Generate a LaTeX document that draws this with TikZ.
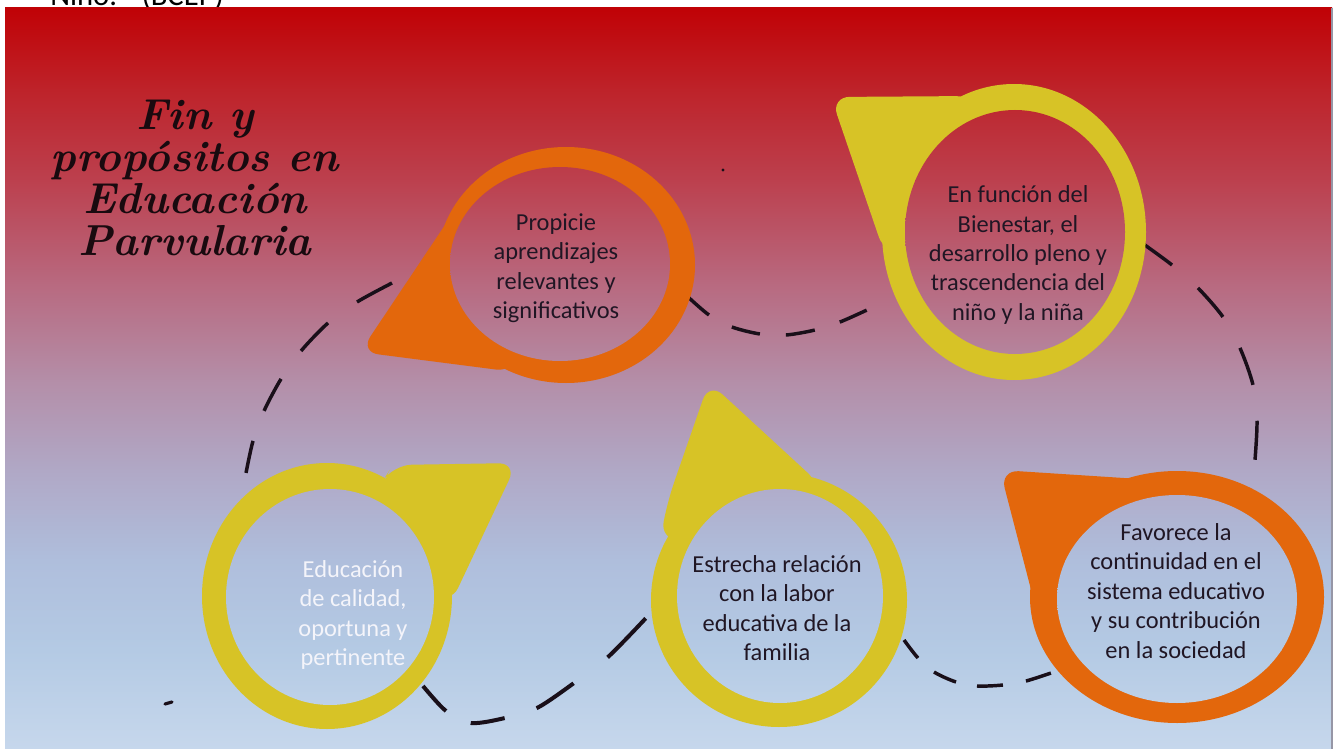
\documentclass[tikz,border=0pt]{standalone}
\usepackage{fontspec}
\newfontfamily\bodyfont{Carlito}
\definecolor{bgA}{RGB}{192,2,6}
\definecolor{bgB}{RGB}{190,35,42}
\definecolor{bgC}{RGB}{188,64,78}
\definecolor{bgD}{RGB}{184,104,126}
\definecolor{bgE}{RGB}{180,142,168}
\definecolor{bgF}{RGB}{176,168,198}
\definecolor{bgG}{RGB}{175,190,220}
\definecolor{bgH}{RGB}{180,202,228}
\definecolor{bgI}{RGB}{198,215,236}
\definecolor{ringor}{RGB}{227,103,12}
\definecolor{ringye}{RGB}{215,195,38}
\definecolor{dashc}{RGB}{25,15,25}
\definecolor{txtdark}{RGB}{32,22,36}
\definecolor{txtlight}{RGB}{244,244,250}
\definecolor{edgec}{RGB}{150,150,166}
\newcommand\slidebg{%
 \shade[top color=bgA,bottom color=bgB] (5,8) rectangle (1332,90.6);
 \shade[top color=bgB,bottom color=bgC] (5,90) rectangle (1332,180.6);
 \shade[top color=bgC,bottom color=bgD] (5,180) rectangle (1332,280.6);
 \shade[top color=bgD,bottom color=bgE] (5,280) rectangle (1332,380.6);
 \shade[top color=bgE,bottom color=bgF] (5,380) rectangle (1332,470.6);
 \shade[top color=bgF,bottom color=bgG] (5,470) rectangle (1332,560.6);
 \shade[top color=bgG,bottom color=bgH] (5,560) rectangle (1332,650.6);
 \shade[top color=bgH,bottom color=bgI] (5,650) rectangle (1332,749);
}
\tikzset{
  bodytext/.style={font=\bodyfont\fontsize{18.3}{22.1}\selectfont, align=center, text=txtdark, inner sep=0pt},
  titletext/.style={font=\fontsize{32.5}{31.5}\selectfont\bfseries\itshape, align=center, text={rgb,255:red,25;green,10;blue,15}, inner sep=0pt},
  dashconn/.style={draw=dashc, line width=2.6pt, line cap=butt},
  tailfill/.style={rounded corners=14pt}
}
\begin{document}
\begin{tikzpicture}[x=0.75pt,y=-0.75pt]
\useasboundingbox (0,0) rectangle (1336,749);
\fill[white] (0,0) rectangle (1336,749);
\node[anchor=base west, font=\bodyfont\fontsize{23}{26}\selectfont, inner sep=0pt] (topnote) at (50,6) {Niño.”\ \ (BCEP)};
\slidebg
\draw[edgec, line width=1.2pt] (1332,8) -- (1332,749);

% dashed connectors
\coordinate (a0) at (687,296); \coordinate (a1) at (867,310);
\coordinate (b0) at (392,283); \coordinate (b1) at (246,473);
\coordinate (c0) at (423,686); \coordinate (c1) at (646,618);
\coordinate (d0) at (904,640); \coordinate (d1) at (1051,673);
\coordinate (e0) at (1142,243); \coordinate (e1) at (1255,460);
\draw[dashconn, dash pattern=on 21.8pt off 19.4pt on 21.7pt off 19.5pt on 22.05pt off 19.65pt on 22.1pt off 40pt]
  plot[smooth] coordinates {(a0) (709,315) (732,327) (760,334) (786,335) (815,330) (840,322) (a1)};
\draw[dashconn, dash pattern=on 29.85pt off 26.85pt on 29.2pt off 25.8pt on 27.15pt off 24pt on 24.6pt off 40pt]
  plot[smooth] coordinates {(b0) (357,302) (328,323) (301,351) (281,379) (264,411) (253,441) (b1)};
\draw[dashconn, line width=3pt, dash pattern=on 25.5pt off 20.8pt on 25.8pt off 25.1pt on 33.5pt off 32.1pt on 40.9pt off 40pt]
  plot[smooth] coordinates {(c0) (446,711) (471,723) (505,718) (537,708) (574,683) (608,657) (c1)};
\draw[dashconn, dash pattern=on 17.1pt off 16pt on 18.15pt off 16.05pt on 19.5pt off 17.5pt on 19.65pt off 40pt]
  plot[smooth] coordinates {(d0) (918,658) (934,672) (956,682) (977,686) (1003,685) (1026,681) (d1)};
\draw[dashconn, dash pattern=on 27.9pt off 26pt on 28.7pt off 26.55pt on 29.4pt off 27.15pt on 29.3pt off 40pt]
  plot[smooth] coordinates {(e0) (1172,265) (1198,288) (1223,317) (1240,348) (1253,385) (1257,421) (e1)};
\fill[dashc] (723,170) circle [radius=1.6];
\draw[dashc, line width=2.4pt, line cap=round] (165,704) -- (172,702);

% ring 1: Propicie (orange)
\fill[ringor] (566,265) ellipse [x radius=129, y radius=118];
\fill[ringor, tailfill] (360,352) -- (455,210) -- (520,300) -- (515,372) -- cycle;
\begin{scope}\clip (560,264) ellipse [x radius=110, y radius=97]; \slidebg\end{scope}

% ring 2: En funcion (yellow)
\fill[ringye] (1014,232) ellipse [x radius=132, y radius=148];
\fill[ringye, tailfill] (831,97) -- (975,96) -- (960,200) -- (885,255) -- cycle;
\begin{scope}\clip (1015,232) ellipse [x radius=110, y radius=122]; \slidebg\end{scope}

% ring 3: Educacion (yellow)
\fill[ringye] (327,596) ellipse [x radius=125, y radius=133];
\fill[ringye, tailfill] (380,485) -- (393,465) -- (517,463) -- (450,605) -- (400,560) -- cycle;
\begin{scope}\clip (330,597) ellipse [x radius=104, y radius=108]; \slidebg\end{scope}

% ring 4: Estrecha (yellow)
\fill[ringye] (779,600) ellipse [x radius=128, y radius=127];
\fill[ringye, tailfill] (709,382) -- (822,486) -- (740,540) -- (660,540) -- (668,500) -- cycle;
\begin{scope}\clip (780,596) ellipse [x radius=103, y radius=107]; \slidebg\end{scope}

% ring 5: Favorece (orange)
\fill[ringor] (1177,597) ellipse [x radius=147, y radius=126];
\fill[ringor, tailfill] (1000,470) -- (1155,480) -- (1100,540) -- (1035,605) -- cycle;
\begin{scope}\clip (1177,599) ellipse [x radius=120, y radius=104]; \slidebg\end{scope}

% texts
\node[titletext] (title) at (195,178) {Fin y\\propósitos en\\Educación\\Parvularia};
\node[bodytext] (p1) at (556,268) {Propicie\\aprendizajes\\relevantes y\\significativos};
\node[bodytext] (p2) at (1018,255) {En función del\\Bienestar, el\\desarrollo pleno y\\trascendencia del\\niño y la niña};
\node[bodytext, text=txtlight] (p3) at (353,615) {Educación\\de calidad,\\oportuna y\\pertinente};
\node[bodytext] (p4) at (777,608) {Estrecha relación\\con la labor\\educativa de la\\familia};
\node[bodytext] (p5) at (1176,591) {Favorece la\\continuidad en el\\sistema educativo\\y su contribución\\en la sociedad};
\end{tikzpicture}
\end{document}
